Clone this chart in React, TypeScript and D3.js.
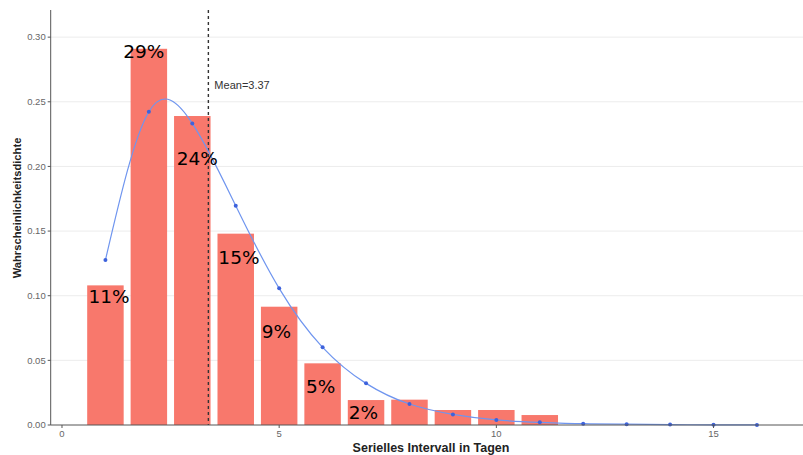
import React, { useRef, useEffect } from 'react'
import * as d3 from 'd3'

// Balken: beobachtete Anteile je Tag
const days = [1, 2, 3, 4, 5, 6, 7, 8, 9, 10, 11]
const density = [0.108, 0.291, 0.239, 0.148, 0.0915, 0.0477, 0.0193, 0.0196, 0.0116, 0.0116, 0.0077]

// angepasste Verteilung (Punkte + Kurve)
const fitDays = [1, 2, 3, 4, 5, 6, 7, 8, 9, 10, 11, 12, 13, 14, 15, 16]
const fitDensity = [
    0.1276, 0.2423, 0.2333, 0.1696, 0.1057, 0.0601, 0.0322, 0.0162, 0.0082, 0.0039, 0.0021,
    0.001, 0.0006, 0.0003, 0.0001, 0.00005,
]

const meanValue = 3.37

// Prozent-Beschriftungen (Position in Datenkoordinaten)
const pctLabels = ['11%', '29%', '24%', '15%', '9%', '5%', '2%']
const pctX = [0.61, 1.41, 2.64, 3.6, 4.6, 5.62, 6.6]
const pctY = [0.0943, 0.284, 0.201, 0.1245, 0.0673, 0.025, 0.0046]

const yTicks = [0, 0.05, 0.1, 0.15, 0.2, 0.25, 0.3]
const xTicks = [0, 5, 10, 15]

export default function App() {
    const svgRef = useRef<SVGSVGElement>(null)
    const width = 803
    const height = 455

    useEffect(() => {
        const svg = d3.select(svgRef.current)
        svg.selectAll('*').remove()

        const left = 50.7
        const right = 803
        const top = 10
        const bottom = 425

        const x = d3.scaleLinear().domain([-0.26, 17.06]).range([left, right])
        const y = d3.scaleLinear().domain([0, 0.321]).range([bottom, top])

        const g = svg.append('g')

        // Gitterlinien
        g.selectAll('.grid')
            .data(yTicks.slice(1))
            .enter()
            .append('line')
            .attr('x1', left)
            .attr('x2', right)
            .attr('y1', (d) => y(d))
            .attr('y2', (d) => y(d))
            .attr('stroke', '#ececec')
            .attr('stroke-width', 1)

        // Balken
        const bw = 0.84
        g.selectAll('.bar')
            .data(days)
            .enter()
            .append('rect')
            .attr('x', (d) => x(d - bw / 2))
            .attr('width', x(bw) - x(0))
            .attr('y', (d, i) => y(density[i]))
            .attr('height', (d, i) => y(0) - y(density[i]))
            .attr('fill', '#f8786c')

        // Mittelwert
        g.append('line')
            .attr('x1', x(meanValue))
            .attr('x2', x(meanValue))
            .attr('y1', top)
            .attr('y2', bottom)
            .attr('stroke', '#333')
            .attr('stroke-width', 1.4)
            .attr('stroke-dasharray', '3,3')

        g.append('text')
            .attr('x', x(meanValue) + 6)
            .attr('y', y(0.26))
            .attr('font-family', 'Liberation Sans, Arial, sans-serif')
            .attr('font-size', 11)
            .attr('fill', '#333')
            .text(`Mean=${meanValue}`)

        // Kurve
        const line = d3
            .line<number>()
            .x((d) => x(d))
            .y((d, i) => y(fitDensity[i]))
            .curve(d3.curveNatural)

        g.append('path')
            .datum(fitDays)
            .attr('d', line)
            .attr('fill', 'none')
            .attr('stroke', '#6f95ef')
            .attr('stroke-width', 1.2)

        g.selectAll('.pt')
            .data(fitDays)
            .enter()
            .append('circle')
            .attr('cx', (d) => x(d))
            .attr('cy', (d, i) => y(fitDensity[i]))
            .attr('r', 2)
            .attr('fill', '#3d62dc')

        // Achsen
        g.append('line')
            .attr('x1', left)
            .attr('x2', left)
            .attr('y1', top)
            .attr('y2', bottom)
            .attr('stroke', '#555')
            .attr('stroke-width', 1)
        g.append('line')
            .attr('x1', left)
            .attr('x2', right)
            .attr('y1', bottom)
            .attr('y2', bottom)
            .attr('stroke', '#555')
            .attr('stroke-width', 1)

        // Y-Ticks
        g.selectAll('.ytick')
            .data(yTicks)
            .enter()
            .append('line')
            .attr('x1', left - 3)
            .attr('x2', left)
            .attr('y1', (d) => y(d))
            .attr('y2', (d) => y(d))
            .attr('stroke', '#555')
        g.selectAll('.ylab')
            .data(yTicks)
            .enter()
            .append('text')
            .attr('x', left - 5)
            .attr('y', (d) => y(d))
            .attr('dy', '0.35em')
            .attr('text-anchor', 'end')
            .attr('font-family', 'Liberation Sans, Arial, sans-serif')
            .attr('font-size', 9.5)
            .attr('fill', '#666')
            .text((d) => d3.format('.2f')(d))

        // X-Ticks
        g.selectAll('.xtick')
            .data(xTicks)
            .enter()
            .append('line')
            .attr('x1', (d) => x(d))
            .attr('x2', (d) => x(d))
            .attr('y1', bottom)
            .attr('y2', bottom + 3)
            .attr('stroke', '#555')
        g.selectAll('.xlab')
            .data(xTicks)
            .enter()
            .append('text')
            .attr('x', (d) => x(d))
            .attr('y', bottom + 8.5)
            .attr('dy', '0.35em')
            .attr('text-anchor', 'middle')
            .attr('font-family', 'Liberation Sans, Arial, sans-serif')
            .attr('font-size', 9.5)
            .attr('fill', '#666')
            .text((d) => d)

        // Achsentitel
        g.append('text')
            .attr('x', 431)
            .attr('y', 452)
            .attr('text-anchor', 'middle')
            .attr('font-family', 'Liberation Sans, Arial, sans-serif')
            .attr('font-weight', 'bold')
            .attr('font-size', 12.5)
            .attr('fill', '#222')
            .text('Serielles Intervall in Tagen')

        g.append('text')
            .attr('transform', 'translate(21,208) rotate(-90)')
            .attr('text-anchor', 'middle')
            .attr('font-family', 'Liberation Sans, Arial, sans-serif')
            .attr('font-weight', 'bold')
            .attr('font-size', 11.2)
            .attr('fill', '#222')
            .text('Wahrscheinlichkeitsdichte')

        // Prozentwerte
        g.selectAll('.pct')
            .data(pctLabels)
            .enter()
            .append('text')
            .attr('x', (d, i) => x(pctX[i]))
            .attr('y', (d, i) => y(pctY[i]))
            .attr('font-family', 'DejaVu Sans, sans-serif')
            .attr('font-size', 18.5)
            .attr('fill', '#000')
            .text((d) => d)
    }, [])

    return (
        <svg
            ref={svgRef}
            width={width}
            height={height}
            style={{ position: 'absolute', left: 0, top: 0, background: '#fff' }}
        />
    )
}
